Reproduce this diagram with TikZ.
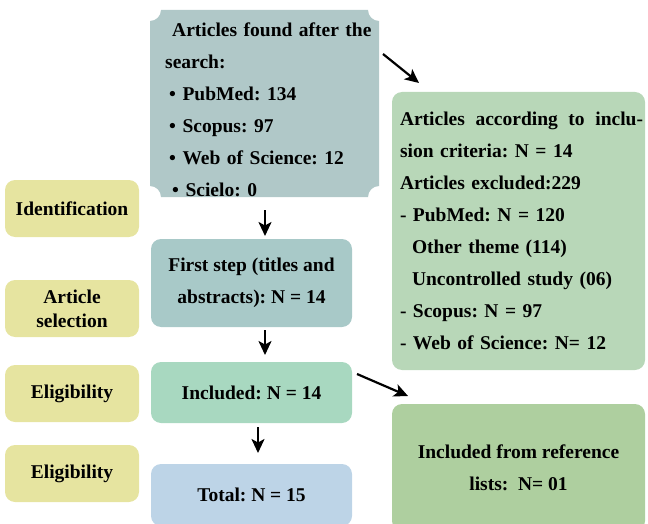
\documentclass[tikz,border=0pt]{standalone}
\usepackage{fontspec}
\setmainfont{Liberation Serif}
\usetikzlibrary{arrows.meta}
\frenchspacing
\definecolor{topc}{HTML}{B0C8C8}
\definecolor{firstc}{HTML}{A8C9C8}
\definecolor{inclc}{HTML}{A8D8C0}
\definecolor{totc}{HTML}{BDD4E7}
\definecolor{rightc}{HTML}{B8D7B8}
\definecolor{refc}{HTML}{AECF9F}
\definecolor{labc}{HTML}{E6E4A0}
\tikzset{
  txt/.style={font=\fontsize{19.5}{32}\selectfont\bfseries},
  lbox/.style={fill=labc, rounded corners=10pt, minimum width=134pt, minimum height=57pt, inner sep=0pt, align=center, font=\fontsize{19.5}{24}\selectfont\bfseries},
  mbox/.style={rounded corners=10pt, minimum width=201pt, inner sep=0pt, align=center, txt},
  arr/.style={line width=2.2pt, -{Stealth[length=14pt,width=13pt,inset=3.5pt]}}
}
\begin{document}
\begin{tikzpicture}[x=1pt,y=-1pt]
\useasboundingbox (0,0) rectangle (648,524);
% top box with concave corners
\fill[topc] (161,10) -- (368,10) .. controls (368,16) and (373,21) .. (379,21)
  -- (379,186) .. controls (373,186) and (368,191) .. (368,197)
  -- (161,197) .. controls (161,191) and (156,186) .. (150,186)
  -- (150,21) .. controls (156,21) and (161,16) .. (161,10) -- cycle;
\node[txt, anchor=north west, inner sep=0pt, text width=215pt, align=left] (found) at (165,13.6)
 {\strut\hspace*{7pt}Articles found after the\\
  search:\\
  \hspace*{4pt}\textbullet\ PubMed: 134\\
  \hspace*{4pt}\textbullet\ Scopus: 97\\
  \hspace*{4pt}\textbullet\ Web of Science: 12\\
  \hspace*{7pt}\textbullet\ Scielo: 0};
% left labels
\node[lbox] (ident) at (72,208.5) {Identification};
\node[lbox] (artsel) at (72,308.5) {Article\\selection};
\node[lbox] (elig1) at (72,393.5) {Eligibility};
\node[lbox] (elig2) at (72,473.5) {Eligibility};
% middle boxes
\node[mbox, fill=firstc, minimum height=88pt] (first) at (251.5,283) {First step (titles and\\abstracts): N = 14};
\node[mbox, fill=inclc, minimum height=61pt] (incl) at (251.5,392.5) {Included: N = 14};
\node[mbox, fill=totc, minimum height=62pt] (total) at (251.5,495) {Total: N = 15};
% right boxes
\node[fill=rightc, rounded corners=10pt, minimum width=253pt, minimum height=278pt, inner xsep=8pt, inner ysep=0pt, text width=237pt, align=left, txt] (crit) at (518.5,231)
 {\hbox to 243pt{Articles\hfil\ according\hfil\ to\hfil\ inclu-}\\
  sion criteria: N = 14\\
  Articles excluded:229\\
  - PubMed: N = 120\\
  \hspace*{12pt}Other theme (114)\\
  \hspace*{12pt}Uncontrolled study (06)\\
  - Scopus: N = 97\\
  - Web of Science: N= 12};
\node[fill=refc, rounded corners=10pt, minimum width=253pt, minimum height=127pt, inner sep=0pt, align=center, txt] (ref) at (518.5,467.5)
 {Included from reference\\lists:\ \ N= 01};
% arrows
\coordinate (a1s) at (383,54); \coordinate (a1e) at (419,83);
\coordinate (a2s) at (265,210); \coordinate (a2e) at (265,236);
\coordinate (a3s) at (265,330); \coordinate (a3e) at (265,355);
\coordinate (a4s) at (258,427); \coordinate (a4e) at (258,453);
\coordinate (a5s) at (357,374); \coordinate (a5e) at (408,396);
\draw[arr] (a1s) -- (a1e);
\draw[arr] (a2s) -- (a2e);
\draw[arr] (a3s) -- (a3e);
\draw[arr] (a4s) -- (a4e);
\draw[arr] (a5s) -- (a5e);
\end{tikzpicture}
\end{document}
